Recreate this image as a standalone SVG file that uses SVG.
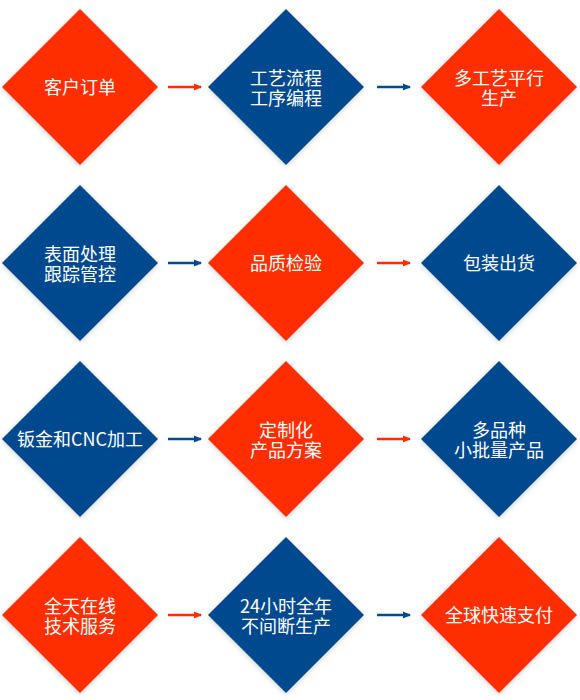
<svg xmlns="http://www.w3.org/2000/svg" width="580" height="700" viewBox="0 0 580 700">
<defs>
<filter id="sh" x="-20%" y="-20%" width="140%" height="140%">
<feDropShadow dx="0" dy="1.5" stdDeviation="2.5" flood-color="#000" flood-opacity="0.18"/>
</filter>
<marker id="ar" viewBox="0 0 8 8" refX="7" refY="4" markerWidth="8" markerHeight="8" markerUnits="userSpaceOnUse" orient="auto">
<path d="M0,0.5 L8,4 L0,7.5 Z" fill="#ff2d00"/>
</marker>
<marker id="ab" viewBox="0 0 8 8" refX="7" refY="4" markerWidth="8" markerHeight="8" markerUnits="userSpaceOnUse" orient="auto">
<path d="M0,0.5 L8,4 L0,7.5 Z" fill="#034a8f"/>
</marker>
<path id="dm" d="M0,-78 L78,0 L0,78 L-78,0 Z"/>
</defs>
<style>
.r{fill:#ff2d00;filter:url(#sh)}
.b{fill:#034a8f;filter:url(#sh)}
.t{fill:#fff;font-family:"Noto Sans CJK SC","Noto Sans",sans-serif;font-size:18px;text-anchor:middle}
.cr{stroke:#ff2d00;stroke-width:2.6;fill:none;marker-end:url(#ar)}
.cb{stroke:#034a8f;stroke-width:2.6;fill:none;marker-end:url(#ab)}
</style>
<rect width="580" height="700" fill="#fff"/>
<g id="connectors">
<line class="cr" x1="168" y1="87" x2="201" y2="87"/>
<line class="cb" x1="377" y1="87" x2="410" y2="87"/>
<line class="cb" x1="168" y1="263" x2="201" y2="263"/>
<line class="cr" x1="377" y1="263" x2="410" y2="263"/>
<line class="cb" x1="168" y1="439" x2="201" y2="439"/>
<line class="cr" x1="377" y1="439" x2="410" y2="439"/>
<line class="cr" x1="168" y1="615" x2="201" y2="615"/>
<line class="cb" x1="377" y1="615" x2="410" y2="615"/>
</g>
<g id="n1"><use href="#dm" class="r" x="80" y="87"/><text class="t" x="80" y="93.5">客户订单</text></g>
<g id="n2"><use href="#dm" class="b" x="286" y="87"/><text class="t" x="286" y="85"><tspan x="286">工艺流程</tspan><tspan x="286" dy="20">工序编程</tspan></text></g>
<g id="n3"><use href="#dm" class="r" x="499" y="87"/><text class="t" x="499" y="85"><tspan x="499">多工艺平行</tspan><tspan x="499" dy="20">生产</tspan></text></g>
<g id="n4"><use href="#dm" class="b" x="80" y="263"/><text class="t" x="80" y="261"><tspan x="80">表面处理</tspan><tspan x="80" dy="20">跟踪管控</tspan></text></g>
<g id="n5"><use href="#dm" class="r" x="286" y="263"/><text class="t" x="286" y="269.5">品质检验</text></g>
<g id="n6"><use href="#dm" class="b" x="499" y="263"/><text class="t" x="499" y="269.5">包装出货</text></g>
<g id="n7"><use href="#dm" class="b" x="80" y="439"/><text class="t" x="80" y="445.5">钣金和CNC加工</text></g>
<g id="n8"><use href="#dm" class="r" x="286" y="439"/><text class="t" x="286" y="437"><tspan x="286">定制化</tspan><tspan x="286" dy="20">产品方案</tspan></text></g>
<g id="n9"><use href="#dm" class="b" x="499" y="439"/><text class="t" x="499" y="437"><tspan x="499">多品种</tspan><tspan x="499" dy="20">小批量产品</tspan></text></g>
<g id="n10"><use href="#dm" class="r" x="80" y="615"/><text class="t" x="80" y="613"><tspan x="80">全天在线</tspan><tspan x="80" dy="20">技术服务</tspan></text></g>
<g id="n11"><use href="#dm" class="b" x="286" y="615"/><text class="t" x="286" y="613"><tspan x="286">24小时全年</tspan><tspan x="286" dy="20">不间断生产</tspan></text></g>
<g id="n12"><use href="#dm" class="r" x="499" y="615"/><text class="t" x="499" y="621.5">全球快速支付</text></g>
</svg>
